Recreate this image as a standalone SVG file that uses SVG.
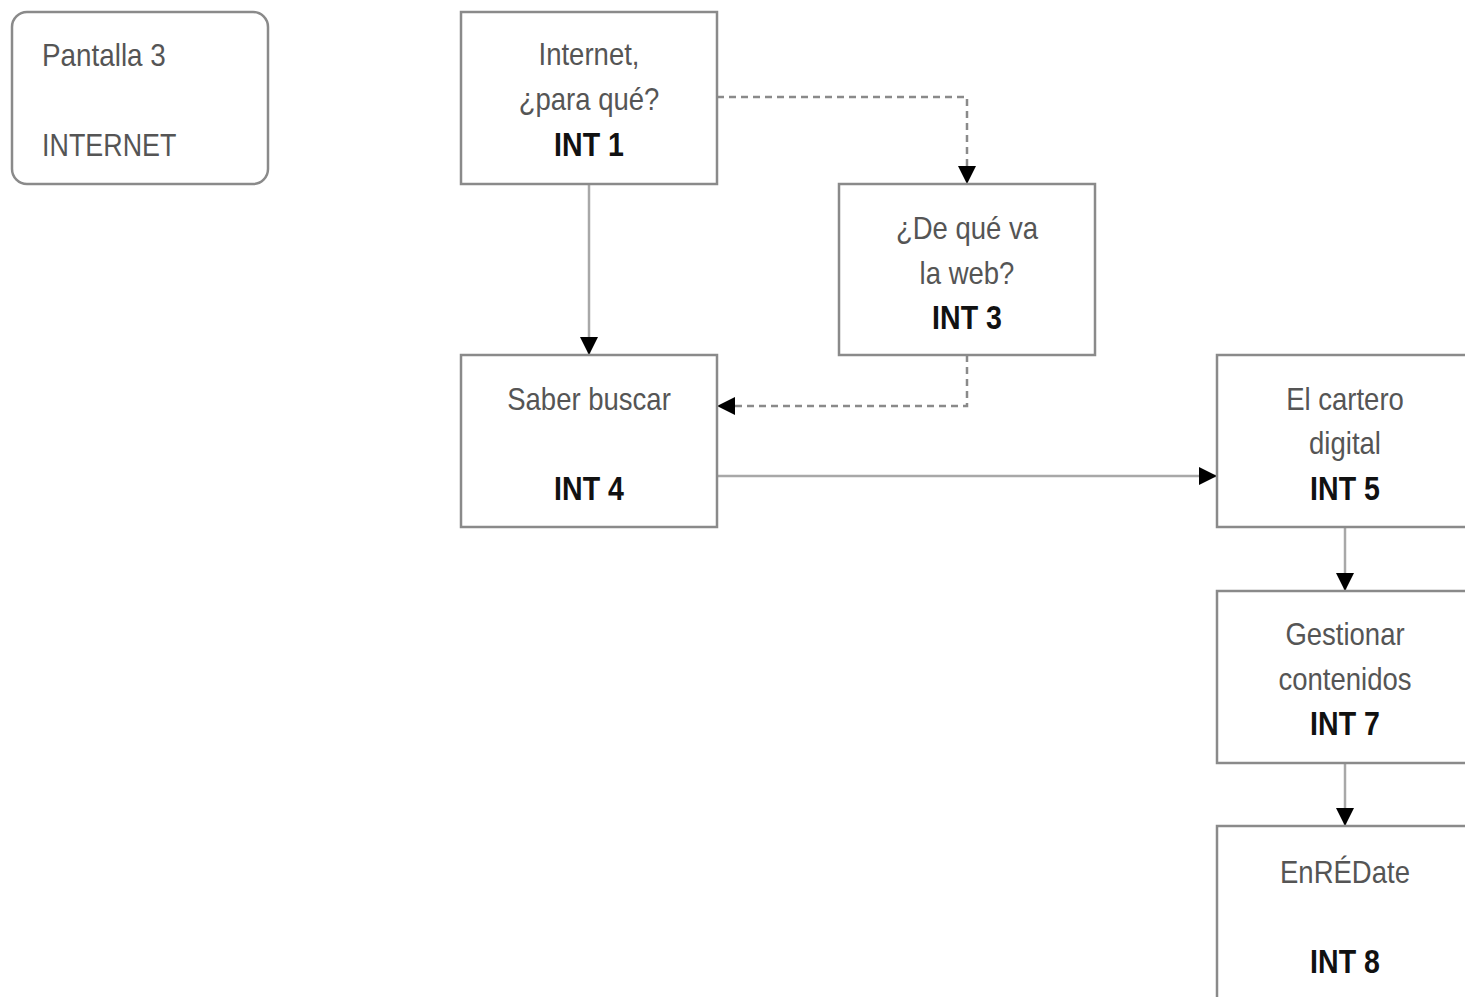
<svg xmlns="http://www.w3.org/2000/svg" width="1465" height="997" viewBox="0 0 1465 997">
<style>
.box{fill:#fff;stroke:#8a8a8a;stroke-width:2.5}
.t{font-family:"Liberation Sans",Arial,sans-serif;font-size:32px;fill:#555;text-anchor:middle}
.b{font-family:"Liberation Sans",Arial,sans-serif;font-size:34px;font-weight:bold;fill:#111;text-anchor:middle}
.tl{font-family:"Liberation Sans",Arial,sans-serif;font-size:32px;fill:#555}
.c{fill:none;stroke:#a8a8a8;stroke-width:2.5}
.d{fill:none;stroke:#8a8a8a;stroke-width:2.5;stroke-dasharray:7 5}
</style>
<defs>
<marker id="ah" markerWidth="20" markerHeight="20" refX="18" refY="9" orient="auto" markerUnits="userSpaceOnUse">
<path d="M0,0 L18,9 L0,18 Z" fill="#000"/>
</marker>
</defs>
<rect width="1465" height="997" fill="#fff"/>
<g id="pantalla">
<rect x="12" y="12" width="256" height="172" rx="15" class="box" stroke="#b0b0b0"/>
<text class="tl" transform="translate(42,66) scale(0.87,1)">Pantalla 3</text>
<text class="tl" transform="translate(42,156) scale(0.84,1)">INTERNET</text>
</g>
<g id="connectors">
<path class="c" d="M589,184 L589,355" marker-end="url(#ah)"/>
<path class="d" d="M717,97 L967,97 L967,184" marker-end="url(#ah)"/>
<path class="d" d="M967,355 L967,406 L717,406" marker-end="url(#ah)"/>
<path class="c" d="M717,476 L1217,476" marker-end="url(#ah)"/>
<path class="c" d="M1345,527 L1345,591" marker-end="url(#ah)"/>
<path class="c" d="M1345,763 L1345,826" marker-end="url(#ah)"/>
</g>
<g id="int1">
<rect x="461" y="12" width="256" height="172" class="box"/>
<text class="t" transform="translate(589,65) scale(0.86,1)">Internet,</text>
<text class="t" transform="translate(589,110) scale(0.86,1)">¿para qué?</text>
<text class="b" transform="translate(589,156) scale(0.84,1)">INT 1</text>
</g>
<g id="int3">
<rect x="839" y="184" width="256" height="171" class="box"/>
<text class="t" transform="translate(967,239) scale(0.86,1)">¿De qué va</text>
<text class="t" transform="translate(967,284) scale(0.86,1)">la web?</text>
<text class="b" transform="translate(967,329) scale(0.84,1)">INT 3</text>
</g>
<g id="int4">
<rect x="461" y="355" width="256" height="172" class="box"/>
<text class="t" transform="translate(589,410) scale(0.86,1)">Saber buscar</text>
<text class="b" transform="translate(589,500) scale(0.84,1)">INT 4</text>
</g>
<g id="int5">
<rect x="1217" y="355" width="260" height="172" class="box"/>
<text class="t" transform="translate(1345,410) scale(0.86,1)">El cartero</text>
<text class="t" transform="translate(1345,454) scale(0.86,1)">digital</text>
<text class="b" transform="translate(1345,500) scale(0.84,1)">INT 5</text>
</g>
<g id="int7">
<rect x="1217" y="591" width="260" height="172" class="box"/>
<text class="t" transform="translate(1345,645) scale(0.86,1)">Gestionar</text>
<text class="t" transform="translate(1345,690) scale(0.86,1)">contenidos</text>
<text class="b" transform="translate(1345,735) scale(0.84,1)">INT 7</text>
</g>
<g id="int8">
<rect x="1217" y="826" width="260" height="180" class="box"/>
<text class="t" transform="translate(1345,883) scale(0.86,1)">EnRÉDate</text>
<text class="b" transform="translate(1345,973) scale(0.84,1)">INT 8</text>
</g>
</svg>
